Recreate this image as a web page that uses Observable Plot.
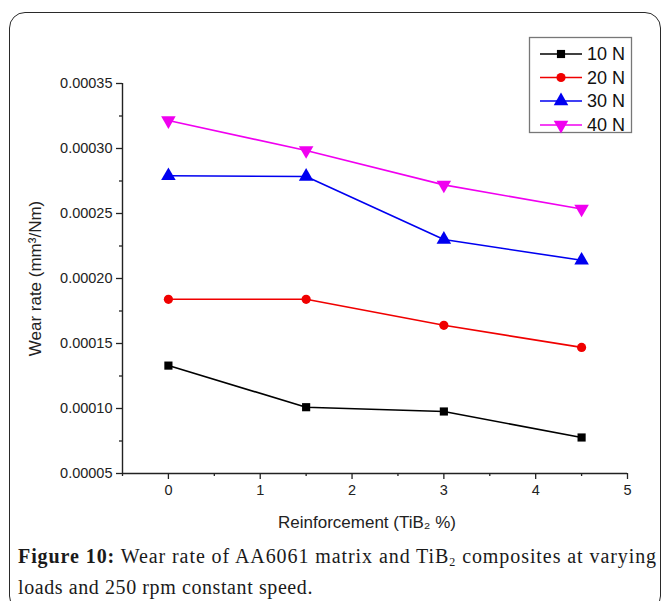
<!DOCTYPE html>
<html>
<head>
<meta charset="utf-8">
<script src="https://cdn.jsdelivr.net/npm/d3@7"></script>
<script src="https://cdn.jsdelivr.net/npm/@observablehq/plot@0.6"></script>
<style>
  html, body { margin: 0; padding: 0; background: #fff; }
  #wrap { position: relative; width: 662px; height: 601px; overflow: hidden; background: #fff; }
  #frame { position: absolute; left: 9px; top: 12px; width: 652px; height: 600px; border: 1.3px solid #2a2a2a; border-radius: 16px; box-sizing: border-box; }
  #chart { position: absolute; left: 0; top: 0; }
  #legend { position: absolute; left: 0; top: 0; }
  #caption { position: absolute; left: 18px; top: 544px; width: 645px; font-family: "Liberation Serif", "Times New Roman", serif; font-size: 20px; line-height: 25px; color: #1a1a1a; white-space: nowrap; }
  #caption b { font-weight: bold; }
  #caption span { display: inline-block; }
</style>
</head>
<body>
<div id="wrap">
  <div id="frame"></div>
  <div id="chart"></div>
  <div id="legend"></div>
  <div id="caption"><span id="cap1"><b>Figure 10:</b> Wear rate of AA6061 matrix and TiB<sub style="font-size:12px;vertical-align:-3px">2</sub> composites at varying</span><br><span id="cap2">loads and 250 rpm constant speed.</span></div>
</div>
<script>
// ---- data ----
const reinforcement = [0, 1.5, 3, 4.5];
const seriesNames = ["10 N", "20 N", "30 N", "40 N"];
const wear10N = [0.000133, 0.000101, 0.0000977, 0.0000777];
const wear20N = [0.000184, 0.000184, 0.000164, 0.000147];
const wear30N = [0.000279, 0.0002785, 0.000230, 0.000214];
const wear40N = [0.0003215, 0.0002985, 0.000272, 0.0002535];
const xTicks = [0, 1, 2, 3, 4, 5];
const xMinorTicks = [-0.5, 0.5, 1.5, 2.5, 3.5, 4.5];
const yTicks = [0.00005, 0.00010, 0.00015, 0.00020, 0.00025, 0.00030, 0.00035];
const yMinorTicks = [0.000075, 0.000125, 0.000175, 0.000225, 0.000275, 0.000325];
const xLabel = "Reinforcement (TiB₂ %)";
const yLabel = "Wear rate (mm³/Nm)";

const colors = ["#000000", "#f00000", "#0000f0", "#f000f0"];
const symbols = ["square", "circle", "triangle", "triangle"];
const rotations = [0, 0, 0, 180];
const radii = [4.6, 4.6, 5.4, 5.4];

const allSeries = [wear10N, wear20N, wear30N, wear40N];
const table = [];
allSeries.forEach((vals, i) => vals.forEach((v, j) => table.push({ series: seriesNames[i], x: reinforcement[j], y: v })));

const dotMarks = seriesNames.map((name, i) =>
  Plot.dot(table.filter(d => d.series === name), {
    x: "x", y: "y", symbol: symbols[i], r: radii[i], rotate: rotations[i],
    fill: colors[i], stroke: "none"
  })
);

const chart = Plot.plot({
  width: 662,
  height: 540,
  marginLeft: 122,
  marginRight: 35,
  marginTop: 83,
  marginBottom: 67,
  style: { fontFamily: "'Liberation Sans', Arial, sans-serif", fontSize: "14px", color: "#222", background: "transparent" },
  x: { domain: [-0.5, 5] },
  y: { domain: [0.00005, 0.00035] },
  color: { domain: seriesNames, range: colors },
  marks: [
    Plot.ruleX([-0.5], { stroke: "#222", strokeWidth: 1.4 }),
    Plot.ruleY([0.00005], { stroke: "#222", strokeWidth: 1.4 }),
    Plot.axisX(xTicks, { tickSize: 6, tickPadding: 5, tickFormat: d => String(d), strokeWidth: 1.3, label: null }),
    Plot.axisX(xMinorTicks, { tickSize: 3, text: null, label: null, strokeWidth: 1.3 }),
    Plot.axisY(yTicks, { tickSize: 6, tickPadding: 4, tickFormat: d3.format(".5f"), strokeWidth: 1.3, label: null }),
    Plot.axisY(yMinorTicks, { tickSize: 3, text: null, label: null, strokeWidth: 1.3 }),
    Plot.text([xLabel], { frameAnchor: "bottom", dy: 49, dx: -8, fontSize: 17, fill: "#222", lineAnchor: "middle", textAnchor: "middle" }),
    Plot.text([yLabel], { frameAnchor: "left", dx: -87, rotate: -90, fontSize: 17, fill: "#222", lineAnchor: "middle", textAnchor: "middle" }),
    Plot.line(table, { x: "x", y: "y", z: "series", stroke: "series", strokeWidth: 1.6 }),
    ...dotMarks
  ]
});
d3.select(chart).selectAll("g[aria-label='y-axis tick label']").attr("font-size", "14.5px");
d3.select(chart).selectAll("g[aria-label='x-axis tick label']").attr("font-size", "14.5px");
document.getElementById("chart").appendChild(chart);

// ---- legend ----
const lg = d3.select("#legend").append("svg").attr("width", 662).attr("height", 160);
lg.append("rect").attr("x", 529.5).attr("y", 37.5).attr("width", 102).attr("height", 95)
  .attr("fill", "#fff").attr("stroke", "#777").attr("stroke-width", 1.3);
const rowY = [54, 77.5, 101, 125];
seriesNames.forEach((name, i) => {
  const g = lg.append("g").attr("transform", `translate(0,${rowY[i]})`);
  g.append("line").attr("x1", 540).attr("x2", 582).attr("stroke", colors[i]).attr("stroke-width", 1.6);
  const area = Math.PI * radii[i] * radii[i];
  const sym = { square: d3.symbolSquare, circle: d3.symbolCircle, triangle: d3.symbolTriangle }[symbols[i]];
  g.append("path").attr("d", d3.symbol(sym, area)()).attr("fill", colors[i])
    .attr("transform", `translate(561,0) rotate(${rotations[i]})`);
  g.append("text").attr("x", 587).attr("dy", "0.36em").text(name)
    .attr("font-family", "'Liberation Sans', Arial, sans-serif").attr("font-size", 18).attr("fill", "#111");
});

// ---- fit caption lines to the reference widths ----
function fit(id, target) {
  const el = document.getElementById(id);
  const n = el.textContent.length;
  const w = el.getBoundingClientRect().width;
  el.style.letterSpacing = ((target - w) / n) + "px";
}
fit("cap1", 639);
fit("cap2", 295);
</script>
</body>
</html>
